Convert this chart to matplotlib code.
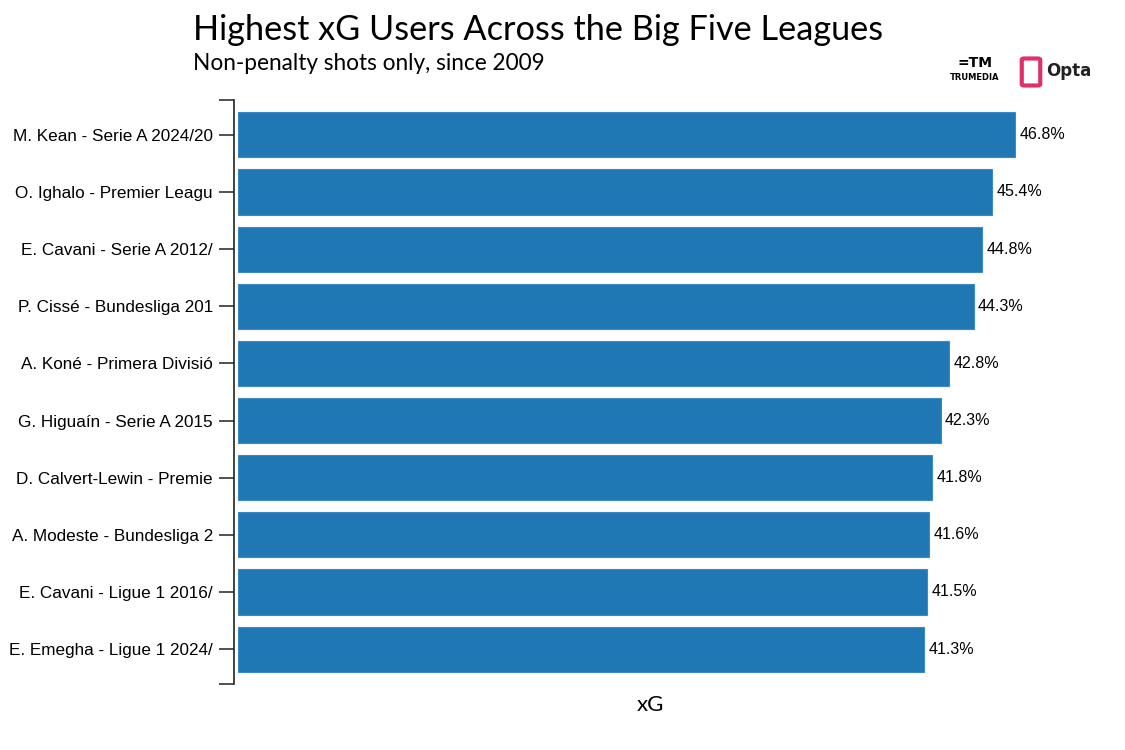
import matplotlib.pyplot as plt
from matplotlib.patches import FancyBboxPatch

players = [
    "M. Kean - Serie A 2024/20",
    "O. Ighalo - Premier Leagu",
    "E. Cavani - Serie A 2012/",
    "P. Cissé - Bundesliga 201",
    "A. Koné - Primera Divisió",
    "G. Higuaín - Serie A 2015",
    "D. Calvert-Lewin - Premie",
    "A. Modeste - Bundesliga 2",
    "E. Cavani - Ligue 1 2016/",
    "E. Emegha - Ligue 1 2024/",
]
xg_pct = [46.8, 45.4, 44.8, 44.3, 42.8, 42.3, 41.8, 41.6, 41.5, 41.3]

fig = plt.figure(figsize=(11.25, 7.5), dpi=100)
ax = fig.add_axes([238 / 1125, 66 / 750, (1062 - 238) / 1125, 584 / 750])

pos = list(range(len(players)))
ax.barh(pos, xg_pct, height=0.79, color='#1f77b4', edgecolor='#3a8ac4', linewidth=0.8)
for p, v in zip(pos, xg_pct):
    ax.text(v + 0.25, p, f"{v}%", va='center', ha='left', fontsize=11.5,
            family='Liberation Sans', color='black')

ax.set_xlim(0, 49.6)
ax.set_ylim(9.61, -0.61)
ax.set_yticks(pos)
ax.set_yticks([-0.61, 9.61], minor=True)
ax.tick_params(axis='y', which='both', length=11, width=1.2, color='#333333', pad=4)
ax.set_yticklabels(players)
ax.tick_params(axis='y', which='major', labelsize=12.3, labelfontfamily='Liberation Sans')
ax.set_xticks([])
for s in ['top', 'right', 'bottom']:
    ax.spines[s].set_visible(False)
ax.spines['left'].set_position(('outward', 3))
ax.spines['left'].set_linewidth(1.2)
ax.spines['left'].set_color('#222222')
ax.set_xlabel('xG', fontsize=16, family='Lato', labelpad=8)

fig.text(193 / 1125, 1 - 30 / 750, 'Highest xG Users Across the Big Five Leagues',
         fontsize=24.7, family='Lato', va='center', ha='left')
fig.text(193 / 1125, 1 - 63 / 750, 'Non-penalty shots only, since 2009',
         fontsize=16.3, family='Lato', va='center', ha='left')

# logos approximated with text
fig.text(975 / 1125, 1 - 78 / 750, 'TRUMEDIA', fontsize=6, weight='bold',
         family='DejaVu Sans', ha='center', va='center')
fig.text(975 / 1125, 1 - 63 / 750, '=TM', fontsize=10, weight='bold',
         family='DejaVu Sans', ha='center', va='center')
fig.patches.append(FancyBboxPatch((1024 / 1125, 1 - 84 / 750), 14 / 1125, 24 / 750,
                                  boxstyle='round,pad=0.002', transform=fig.transFigure,
                                  facecolor='none', edgecolor='#e0306a', linewidth=3))
fig.text(1046 / 1125, 1 - 71 / 750, 'Opta', fontsize=12, weight='bold',
         family='DejaVu Sans', ha='left', va='center', color='#222222')

plt.savefig('out.png', dpi=100)
